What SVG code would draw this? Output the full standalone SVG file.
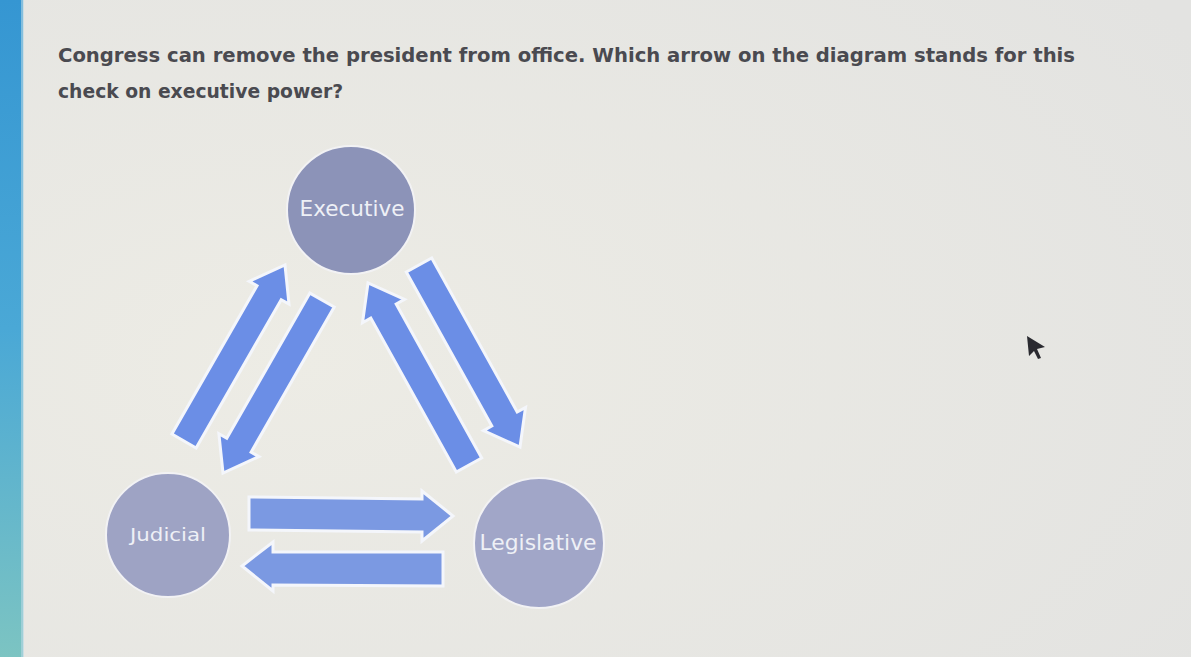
<svg xmlns="http://www.w3.org/2000/svg" width="1191" height="657" viewBox="0 0 1191 657">
<defs>
<linearGradient id="strip" x1="0" y1="0" x2="0" y2="1">
<stop offset="0" stop-color="#3596d2"/>
<stop offset="0.5" stop-color="#4aa8d6"/>
<stop offset="1" stop-color="#7cc4c2"/>
</linearGradient>
<radialGradient id="bg" cx="0.25" cy="0.55" r="0.9">
<stop offset="0" stop-color="#edece5"/>
<stop offset="1" stop-color="#e3e3e1"/>
</radialGradient>
<style>
.q{font-family:"DejaVu Sans","Verdana",sans-serif;font-weight:bold;font-size:19px;fill:#4a4a50}
.node circle{stroke:#f2f2f4;stroke-width:2}
.lbl{font-family:"DejaVu Sans","Verdana",sans-serif;text-anchor:middle;fill:#eef0f6}
.arr{fill:#6b8ee6;stroke:#f4f6fb;stroke-width:3;stroke-linejoin:miter}
.arr2{fill:#7b99e2;stroke:#f4f6fb;stroke-width:3}
</style>
</defs>
<rect width="1191" height="657" fill="url(#bg)"/>
<rect x="0" y="0" width="23" height="657" fill="url(#strip)"/>
<rect x="21" y="0" width="3" height="657" fill="#b9d9e4" opacity="0.6"/>
<text class="q" x="58" y="62" textLength="1017" lengthAdjust="spacingAndGlyphs">Congress can remove the president from office. Which arrow on the diagram stands for this</text>
<text class="q" x="58" y="98" textLength="285" lengthAdjust="spacingAndGlyphs">check on executive power?</text>
<g id="connectors">
<polygon id="j-to-e" class="arr" points="196.1,448 281.2,299.7 289,304.1 285,265 249.2,281.3 257,285.7 171.9,434"/>
<polygon id="e-to-j" class="arr" points="309.9,293.1 226.8,438.3 218.9,433.8 223,473 258.9,456.6 251.1,452.2 334.2,307"/>
<polygon id="l-to-e" class="arr" points="481.7,458 396.2,304 404.5,299.4 368,283 362.5,322.7 370.8,318 456.3,472"/>
<polygon id="e-to-l" class="arr" points="406.3,272 491.8,426 483.5,430.7 520,447 525.5,407.4 517.2,412 431.7,258"/>
<polygon id="j-to-l" class="arr2" points="249,497 422,499 422,491 453,516 422,541 422,532 249,530"/>
<polygon id="l-to-j" class="arr2" points="443,552 273,552 273,542 242,566 273,591 273,585 443,586"/>
</g>
<g id="executive" class="node">
<circle cx="351" cy="210" r="64" fill="#8c93b8"/>
<text class="lbl" x="352" y="216" font-size="21" textLength="105" lengthAdjust="spacingAndGlyphs">Executive</text>
</g>
<g id="judicial" class="node">
<circle cx="168" cy="535" r="62" fill="#9ea3c4"/>
<text class="lbl" x="168" y="541" font-size="18" fill="#dcdee6" textLength="76" lengthAdjust="spacingAndGlyphs">Judicial</text>
</g>
<g id="legislative" class="node">
<circle cx="539" cy="543" r="65" fill="#a1a6c8"/>
<text class="lbl" x="538" y="550" font-size="21" textLength="117" lengthAdjust="spacingAndGlyphs">Legislative</text>
</g>
<polygon points="1027,336 1045,347 1037,349 1041,358 1038,359 1034,351 1029,356" fill="#2a2a30"/>
</svg>
